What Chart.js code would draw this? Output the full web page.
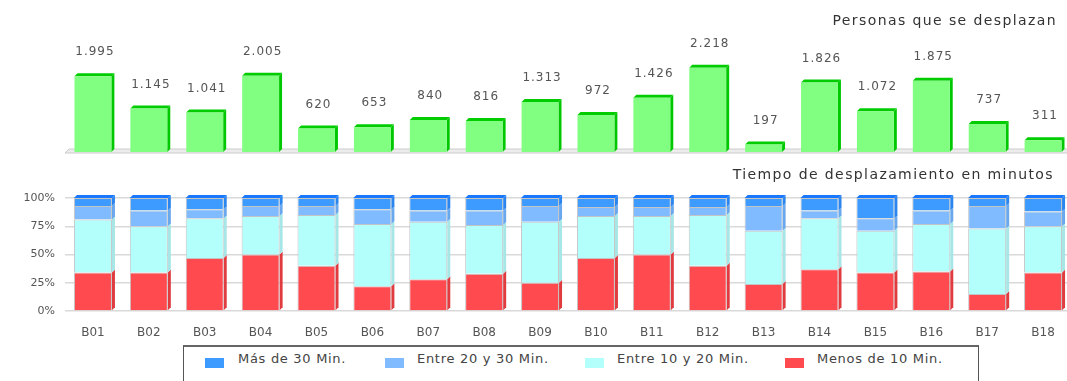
<!DOCTYPE html>
<html>
<head>
<meta charset="utf-8">
<script src="https://cdn.jsdelivr.net/npm/chart.js@4.4.1/dist/chart.umd.min.js"></script>
<style>
  body { margin: 0; width: 1067px; height: 381px; overflow: hidden; background: #fff; position: relative; font-family: "DejaVu Sans", sans-serif; }
  #topChart { position: absolute; left: 0; top: 0; }
  #bottomChart { position: absolute; left: 0; top: 165px; }
  .ttl { position: absolute; font-size: 14px; letter-spacing: 1.4px; color: #333; white-space: nowrap; }
  #legendBox { position: absolute; left: 183px; top: 345px; width: 794px; height: 60px; border: 1px solid #555; border-top: 2px solid #666; }
  .sw { position: absolute; width: 19px; height: 10px; top: 358px; }
  .lt { position: absolute; top: 351px; font-size: 13px; letter-spacing: 0.7px; color: #444; white-space: nowrap; }
</style>
</head>
<body>
<canvas id="topChart" width="1071" height="160"></canvas>
<canvas id="bottomChart" width="1071" height="178"></canvas>
<div class="ttl" style="right:10px;top:12px">Personas que se desplazan</div>
<div class="ttl" style="right:13px;top:166px">Tiempo de desplazamiento en minutos</div>
<div id="legendBox"></div>
<div id="legend"></div>
<script>
// barrios
var categories = ['B01','B02','B03','B04','B05','B06','B07','B08','B09','B10','B11','B12','B13','B14','B15','B16','B17','B18'];

// personas que se desplazan
var personas = [1995, 1145, 1041, 2005, 620, 653, 840, 816, 1313, 972, 1426, 2218, 197, 1826, 1072, 1875, 737, 311];

// tiempo de desplazamiento (%)
var menos10    = [34, 34, 47, 50, 40, 22, 28, 33, 25, 47, 50, 40, 24, 37, 34, 35, 15, 34];
var entre10y20 = [47, 41, 35, 34, 45, 55, 51, 43, 54, 37, 34, 45, 47, 45, 37, 42, 58, 41];
var entre20y30 = [12, 14,  8,  9,  8, 13, 10, 13, 14,  8,  8,  7, 22,  7, 11, 12, 20, 13];
var mas30      = [ 7, 11, 10,  7,  7, 10, 11, 11,  7,  8,  8,  8,  7, 11, 18, 11,  7, 12];

var seriesNames = ['Más de 30 Min.', 'Entre 20 y 30 Min.', 'Entre 10 y 20 Min.', 'Menos de 10 Min.'];
var yTicks = [0, 25, 50, 75, 100];

function fmt(n) {
  if (n < 1000) return String(n);
  return Math.floor(n / 1000) + '.' + String(n % 1000).padStart(3, '0');
}

// fake 3D: side and top faces drawn behind the bars
var depth3d = {
  id: 'depth3d',
  beforeDatasetsDraw: function (chart, args, opts) {
    var ctx = chart.ctx, d = opts.d || 3;
    ctx.save();
    chart.data.datasets.forEach(function (ds, i) {
      var meta = chart.getDatasetMeta(i);
      meta.data.forEach(function (bar) {
        var p = bar.getProps(['x', 'y', 'base', 'width'], true);
        var l = p.x - p.width / 2, r = p.x + p.width / 2;
        var top = Math.min(p.y, p.base), bot = Math.max(p.y, p.base);
        ctx.fillStyle = ds.sideColor;
        ctx.beginPath();
        ctx.moveTo(r, bot); ctx.lineTo(r + d, bot - d); ctx.lineTo(r + d, top - d); ctx.lineTo(r, top);
        ctx.closePath(); ctx.fill();
        if (ds.topColor) {
          ctx.fillStyle = ds.topColor;
          ctx.beginPath();
          ctx.moveTo(l, top); ctx.lineTo(l + d, top - d); ctx.lineTo(r + d, top - d); ctx.lineTo(r, top);
          ctx.closePath(); ctx.fill();
        }
      });
    });
    ctx.restore();
  }
};

var floorLine = {
  id: 'floorLine',
  beforeDatasetsDraw: function (chart) {
    var a = chart.chartArea, ctx = chart.ctx;
    ctx.save();
    ctx.fillStyle = '#ececec';
    ctx.strokeStyle = '#cccccc';
    ctx.lineWidth = 1;
    ctx.beginPath();
    ctx.moveTo(a.left, a.bottom + 1);
    ctx.lineTo(a.left + 4, a.bottom - 3);
    ctx.lineTo(a.right, a.bottom - 3);
    ctx.lineTo(a.right, a.bottom + 1);
    ctx.closePath();
    ctx.fill(); ctx.stroke();
    ctx.restore();
  }
};

var valueLabels = {
  id: 'valueLabels',
  afterDatasetsDraw: function (chart) {
    var ctx = chart.ctx;
    var meta = chart.getDatasetMeta(0);
    ctx.save();
    ctx.font = '12px "DejaVu Sans"';
    ctx.letterSpacing = '1px';
    ctx.fillStyle = '#555';
    ctx.textAlign = 'center';
    ctx.textBaseline = 'middle';
    meta.data.forEach(function (bar, i) {
      ctx.fillText(fmt(personas[i]), bar.x + 2, bar.y - 24);
    });
    ctx.restore();
  }
};

new Chart(document.getElementById('topChart'), {
  type: 'bar',
  data: {
    labels: categories,
    datasets: [{
      label: 'Personas que se desplazan',
      data: personas,
      backgroundColor: '#80ff80',
      sideColor: '#00c800',
      topColor: '#00cc00',
      borderWidth: 0,
      barPercentage: 0.66,
      categoryPercentage: 1
    }]
  },
  options: {
    responsive: false,
    animation: false,
    layout: { padding: { left: 65, right: 0, top: 57, bottom: 8 } },
    plugins: { legend: { display: false }, tooltip: { enabled: false }, depth3d: { d: 3 } },
    scales: {
      x: { display: false },
      y: { display: false, min: 0, max: 2500 }
    }
  },
  plugins: [floorLine, depth3d, valueLabels]
});

var bottomSets = [
  { label: seriesNames[3], data: menos10,    backgroundColor: '#ff4a4f', sideColor: '#e03c40' },
  { label: seriesNames[2], data: entre10y20, backgroundColor: '#b2fffc', sideColor: '#a6e6e6' },
  { label: seriesNames[1], data: entre20y30, backgroundColor: '#80bbff', sideColor: '#6aa8ee' },
  { label: seriesNames[0], data: mas30,      backgroundColor: '#3d9aff', sideColor: '#2a86ee', topColor: '#1a78ff' }
];
bottomSets.forEach(function (ds) {
  ds.borderColor = '#c4c4c4';
  ds.borderWidth = 1;
  ds.barPercentage = 0.68;
  ds.categoryPercentage = 1;
});

new Chart(document.getElementById('bottomChart'), {
  type: 'bar',
  data: { labels: categories, datasets: bottomSets },
  options: {
    responsive: false,
    animation: false,
    layout: { padding: { left: 0, right: 0, top: 33, bottom: 0 } },
    plugins: { legend: { display: false }, tooltip: { enabled: false }, depth3d: { d: 3 } },
    scales: {
      x: {
        stacked: true,
        grid: { display: false },
        border: { display: false },
        ticks: { color: '#555', font: { family: 'DejaVu Sans', size: 12 }, padding: 7 },
        afterFit: function (s) { s.height = 32; }
      },
      y: {
        stacked: true,
        min: 0,
        max: 100,
        afterBuildTicks: function (s) { s.ticks = yTicks.map(function (v) { return { value: v }; }); },
        ticks: { color: '#555', font: { family: 'DejaVu Sans', size: 11 }, padding: 10, callback: function (v) { return v + '%'; } },
        grid: { color: '#d9d9d9', lineWidth: 1.5, drawTicks: false },
        border: { display: false },
        afterFit: function (s) { s.width = 65; }
      }
    }
  },
  plugins: [depth3d]
});

// legend, same order as the original (top of stack first)
var swColors = ['#3d9aff', '#80bbff', '#b2fffc', '#ff4a4f'];
var swX = [205, 385, 585, 785];
var txX = [238, 417, 617, 817];
var lg = document.getElementById('legend');
seriesNames.forEach(function (name, i) {
  var sw = document.createElement('div');
  sw.className = 'sw';
  sw.style.left = swX[i] + 'px';
  sw.style.background = swColors[i];
  lg.appendChild(sw);
  var t = document.createElement('div');
  t.className = 'lt';
  t.style.left = txX[i] + 'px';
  t.textContent = name;
  lg.appendChild(t);
});
</script>
</body>
</html>
